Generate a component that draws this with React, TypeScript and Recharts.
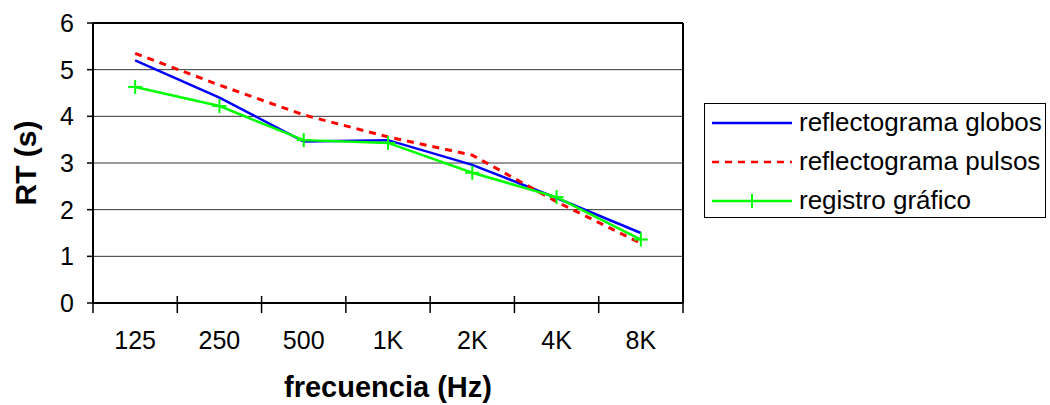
import React from "react";
import { LineChart, Line, XAxis, YAxis, CartesianGrid, ReferenceLine } from "recharts";

const categories = ["125", "250", "500", "1K", "2K", "4K", "8K"];
const globos = [5.2, 4.4, 3.46, 3.49, 2.96, 2.25, 1.5];
const pulsos = [5.35, 4.67, 4.03, 3.56, 3.17, 2.17, 1.28];
const registro = [4.63, 4.22, 3.49, 3.43, 2.79, 2.27, 1.36];
const yTicks = [0, 1, 2, 3, 4, 5, 6];
const xTicks = [0, 1, 2, 3, 4, 5, 6, 7];

const series = [
  { key: "globos", name: "reflectograma globos", color: "#0000ff", dash: undefined, marker: false },
  { key: "pulsos", name: "reflectograma pulsos", color: "#ff0000", dash: "7 6", marker: false },
  { key: "registro", name: "registro gráfico", color: "#00ff00", dash: undefined, marker: true },
];

const data = categories.map((c, i) => ({
  x: i + 0.5,
  name: c,
  globos: globos[i],
  pulsos: pulsos[i],
  registro: registro[i],
}));

const FONT = "'Liberation Sans', Arial, sans-serif";

const XTick = (props: any) => {
  const { x, y, payload, width } = props;
  const i = payload.value;
  const band = (typeof width === "number" ? width : 590) / categories.length;
  return (
    <g>
      <line x1={x} x2={x} y1={y - 7} y2={y + 10} stroke="#000" strokeWidth={1.5} />
      {i < categories.length && (
        <text x={x + band / 2} y={y + 46} textAnchor="middle" fontSize={25} fill="#000" fontFamily={FONT}>
          {categories[i]}
        </text>
      )}
    </g>
  );
};

const Cross = (props: any) => {
  const { cx, cy, stroke } = props;
  if (cx == null || cy == null) return null;
  return (
    <g>
      <line x1={cx - 7} x2={cx + 7} y1={cy} y2={cy} stroke={stroke} strokeWidth={2} />
      <line x1={cx} x2={cx} y1={cy - 7} y2={cy + 7} stroke={stroke} strokeWidth={2} />
    </g>
  );
};

// legend drawn as an overlay so it doesn't eat into the plot area
const LegendBox = () => (
  <div
    style={{
      position: "absolute",
      left: 704,
      top: 103,
      border: "1px solid #000",
      width: 342,
      height: 115,
      boxSizing: "border-box",
      background: "#fff",
      fontFamily: FONT,
      fontSize: 26,
    }}
  >
    {series.map((s) => (
      <div key={s.key} style={{ display: "flex", alignItems: "center", height: 39, marginTop: s.key === "globos" ? -1 : 0 }}>
        <svg width={94} height={20} style={{ flex: "none" }}>
          <line x1={7} x2={87} y1={10} y2={10} stroke={s.color} strokeWidth={2.5} strokeDasharray={s.dash} />
          {s.marker && <line x1={47} x2={47} y1={3} y2={17} stroke={s.color} strokeWidth={2} />}
        </svg>
        <span style={{ color: "#000", whiteSpace: "nowrap" }}>{s.name}</span>
      </div>
    ))}
  </div>
);

export default function App() {
  return (
    <div style={{ position: "absolute", left: 0, top: 0, width: 1050, height: 405, background: "#fff" }}>
      <LineChart width={1050} height={405} data={data} margin={{ top: 23, right: 367, bottom: 0, left: 0 }}>
        <CartesianGrid vertical={false} stroke="#333" strokeWidth={1} />
        <XAxis
          dataKey="x"
          type="number"
          domain={[0, 7]}
          ticks={xTicks}
          interval={0}
          height={102}
          tickSize={0}
          tickMargin={0}
          tickLine={false}
          axisLine={{ stroke: "#000", strokeWidth: 2 }}
          tick={<XTick />}
          label={{
            value: "frecuencia (Hz)",
            position: "insideBottom",
            offset: 8,
            fontSize: 29,
            fontWeight: "bold",
            fill: "#000",
            fontFamily: FONT,
          }}
        />
        <YAxis
          domain={[0, 6]}
          ticks={yTicks}
          width={93}
          interval={0}
          tickSize={6}
          tickMargin={13}
          tickLine={{ stroke: "#000", strokeWidth: 1.5 }}
          axisLine={{ stroke: "#000", strokeWidth: 2 }}
          tick={{ fontSize: 25, fill: "#000", fontFamily: FONT }}
          label={{
            value: "RT (s)",
            angle: -90,
            position: "center",
            dx: -21,
            fontSize: 30,
            fontWeight: "bold",
            fill: "#000",
            fontFamily: FONT,
          }}
        />
        <ReferenceLine y={6} stroke="#000" strokeWidth={2} />
        <ReferenceLine x={7} stroke="#000" strokeWidth={2} />
        {series.map((s) => (
          <Line
            key={s.key}
            dataKey={s.key}
            name={s.name}
            type="linear"
            stroke={s.color}
            strokeWidth={s.dash ? 3 : 2.5}
            strokeDasharray={s.dash}
            dot={s.marker ? <Cross /> : false}
            activeDot={false}
            isAnimationActive={false}
          />
        ))}
      </LineChart>
      <LegendBox />
    </div>
  );
}
